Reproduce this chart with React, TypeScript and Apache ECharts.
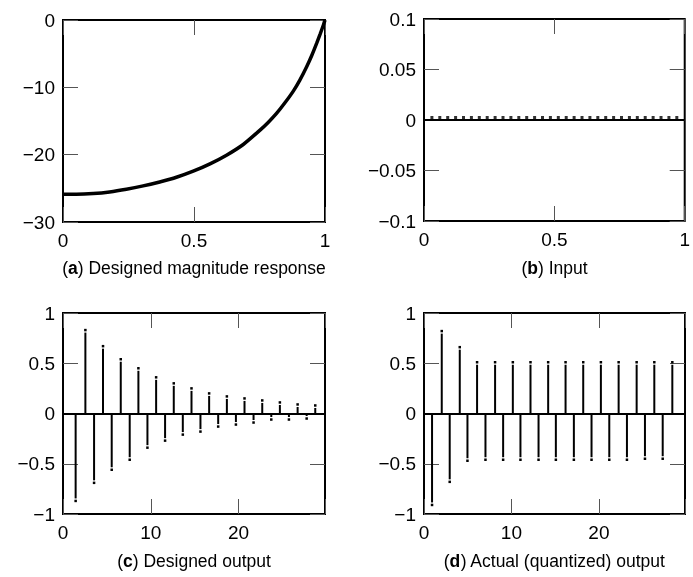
import React, { useEffect, useRef } from "react";
import * as echarts from "echarts";

// (a) Designed magnitude response (normalized frequency vs dB)
const magFreq = [0, 0.051, 0.115, 0.178, 0.242, 0.306, 0.369, 0.433, 0.497, 0.561, 0.624, 0.688, 0.752, 0.783, 0.815, 0.847, 0.879, 0.904, 0.93, 0.949, 0.968, 0.981, 0.994, 1.0];
const magDb = [-25.88, -25.88, -25.78, -25.54, -25.14, -24.64, -24.05, -23.36, -22.46, -21.37, -20.08, -18.49, -16.36, -15.22, -13.88, -12.3, -10.56, -8.93, -6.94, -5.31, -3.47, -2.13, -0.74, 0];

// (b) Input: all-zero samples
const inputValues = [0, 0, 0, 0, 0, 0, 0, 0, 0, 0, 0, 0, 0, 0, 0, 0, 0, 0, 0, 0, 0, 0, 0, 0, 0, 0, 0, 0, 0, 0, 0, 0];

// (c) Designed output
const designedN = [1.44, 2.55, 3.54, 4.56, 5.55, 6.58, 7.6, 8.59, 9.62, 10.61, 11.63, 12.62, 13.65, 14.64, 15.66, 16.65, 17.68, 18.67, 19.7, 20.68, 21.71, 22.7, 23.73, 24.71, 25.74, 26.73, 27.76, 28.74];
const designedOut = [-0.87, 0.83, -0.69, 0.67, -0.56, 0.54, -0.46, 0.45, -0.34, 0.36, -0.27, 0.3, -0.21, 0.25, -0.18, 0.2, -0.13, 0.17, -0.11, 0.15, -0.09, 0.13, -0.06, 0.11, -0.06, 0.09, -0.05, 0.08];

// (d) Actual (quantized) output
const actualN = [0.92, 2.03, 2.94, 4.09, 4.97, 6.07, 7.03, 8.13, 9.05, 10.16, 11.03, 12.18, 13.1, 14.2, 15.08, 16.19, 17.14, 18.21, 19.16, 20.23, 21.19, 22.26, 23.21, 24.32, 25.27, 26.34, 27.3, 28.4];
const actualOut = [-0.91, 0.82, -0.68, 0.66, -0.47, 0.51, -0.46, 0.51, -0.46, 0.51, -0.46, 0.51, -0.46, 0.51, -0.46, 0.51, -0.46, 0.51, -0.46, 0.51, -0.46, 0.51, -0.46, 0.51, -0.45, 0.51, -0.45, 0.51];

const captions = [
  { id: "a", text: " Designed magnitude response" },
  { id: "b", text: " Input" },
  { id: "c", text: " Designed output" },
  { id: "d", text: " Actual (quantized) output" },
];

const FONT = '"Liberation Sans", Arial, Helvetica, sans-serif';
const FS = 19;
const CFS = 17.5;

const grids = [
  { left: 63, top: 20, width: 262, height: 202 },
  { left: 424, top: 19, width: 261, height: 202 },
  { left: 63, top: 313, width: 262, height: 201 },
  { left: 424, top: 313, width: 261, height: 201 },
];

const fmtNum = (v: number) => {
  const s = String(+Number(v).toFixed(4));
  return s === "-0" ? "0" : s.replace("-", "\u2212");
};
const fmtTens = (v: number) => (Math.abs(v % 10) < 1e-6 ? String(v) : "");

const xSpecs = [
  { min: 0, max: 1, interval: 0.5, formatter: fmtNum },
  { min: 0, max: 1, interval: 0.5, formatter: fmtNum },
  { min: 0, max: 29.85, interval: 10, formatter: fmtTens },
  { min: 0, max: 29.85, interval: 10, formatter: fmtTens },
];
const ySpecs = [
  { min: -30, max: 0, interval: 10 },
  { min: -0.1, max: 0.1, interval: 0.05 },
  { min: -1, max: 1, interval: 0.5 },
  { min: -1, max: 1, interval: 0.5 },
];

const tick = { show: true, inside: true, length: 15, lineStyle: { color: "#555", width: 1 } };
const noLine = { show: false, onZero: false };

function stemRender(params: any, api: any) {
  const x = api.value(0);
  const v = api.value(1);
  const p = api.coord([x, v]);
  const z = api.coord([x, 0]);
  const up = p[1] < z[1];
  const gap = 2.5;
  const endY = up ? p[1] + gap : p[1] - gap;
  const y0 = Math.min(z[1], endY);
  const h = Math.abs(endY - z[1]);
  return {
    type: "group",
    children: [
      { type: "rect", shape: { x: p[0] - 1, y: y0, width: 2, height: h }, style: { fill: "#000" } },
      { type: "rect", shape: { x: p[0] - 1.25, y: p[1] - 1.25, width: 2.5, height: 2.5 }, style: { fill: "#000" } },
    ],
  };
}

const zeroLine = {
  silent: true,
  symbol: ["none", "none"],
  label: { show: false },
  lineStyle: { color: "#000", width: 2, type: "solid" },
  data: [{ yAxis: 0 }],
};

export default function App() {
  const ref = useRef<HTMLDivElement>(null);
  useEffect(() => {
    document.body.style.margin = "0";
    const chart = echarts.init(ref.current!, null, { renderer: "svg" });

    const xAxis: any[] = [];
    const yAxis: any[] = [];
    grids.forEach((_, i) => {
      const xs = xSpecs[i];
      const ys = ySpecs[i];
      xAxis.push({
        type: "value", gridIndex: i, position: "bottom", min: xs.min, max: xs.max, interval: xs.interval,
        axisLine: noLine, axisTick: tick, splitLine: { show: false },
        axisLabel: { margin: 9, fontSize: FS, color: "#000", fontFamily: FONT, formatter: xs.formatter },
      });
      xAxis.push({
        type: "value", gridIndex: i, position: "top", min: xs.min, max: xs.max, interval: xs.interval,
        axisLine: noLine, axisTick: tick, splitLine: { show: false }, axisLabel: { show: false },
      });
      yAxis.push({
        type: "value", gridIndex: i, position: "left", min: ys.min, max: ys.max, interval: ys.interval,
        axisLine: noLine, axisTick: tick, splitLine: { show: false },
        axisLabel: { margin: 8, fontSize: FS, color: "#000", fontFamily: FONT, formatter: fmtNum },
      });
      yAxis.push({
        type: "value", gridIndex: i, position: "right", min: ys.min, max: ys.max, interval: ys.interval,
        axisLine: noLine, axisTick: tick, splitLine: { show: false }, axisLabel: { show: false },
      });
    });

    const captionGraphics = captions.map((c, i) => {
      const g = grids[i];
      return {
        type: "text",
        x: g.left + g.width / 2,
        y: i < 2 ? 268 : 561,
        style: {
          text: `{n|(}{b|${c.id}}{n|)${c.text}}`,
          align: "center",
          verticalAlign: "middle",
          fontFamily: FONT,
          fontSize: CFS,
          fill: "#000",
          rich: {
            n: { fontFamily: FONT, fontSize: CFS, fill: "#000" },
            b: { fontFamily: FONT, fontSize: CFS, fontWeight: "bold", fill: "#000" },
          },
        },
      };
    });

    chart.setOption({
      animation: false,
      grid: grids.map((g) => ({ ...g, show: true, borderColor: "#000", borderWidth: 2, backgroundColor: "transparent" })),
      xAxis,
      yAxis,
      series: [
        {
          type: "line", xAxisIndex: 0, yAxisIndex: 0,
          data: magFreq.map((f, i) => [f, magDb[i]]),
          smooth: 0.2, showSymbol: false,
          lineStyle: { color: "#000", width: 3.5 },
        },
        {
          type: "scatter", xAxisIndex: 2, yAxisIndex: 2,
          data: inputValues.map((v, i) => [(i + 1) / (inputValues.length + 1), v]),
          symbol: "rect", symbolSize: 3, symbolOffset: [0, -2.5],
          itemStyle: { color: "#000" },
          markLine: zeroLine,
        },
        {
          type: "custom", xAxisIndex: 4, yAxisIndex: 4,
          data: designedN.map((n, i) => [n, designedOut[i]]),
          encode: { x: 0, y: 1 },
          renderItem: stemRender,
          markLine: zeroLine,
        },
        {
          type: "custom", xAxisIndex: 6, yAxisIndex: 6,
          data: actualN.map((n, i) => [n, actualOut[i]]),
          encode: { x: 0, y: 1 },
          renderItem: stemRender,
          markLine: zeroLine,
        },
      ],
      graphic: captionGraphics,
    });
    return () => chart.dispose();
  }, []);
  return <div ref={ref} style={{ position: "fixed", left: 0, top: 0, width: 693, height: 577 }} />;
}
